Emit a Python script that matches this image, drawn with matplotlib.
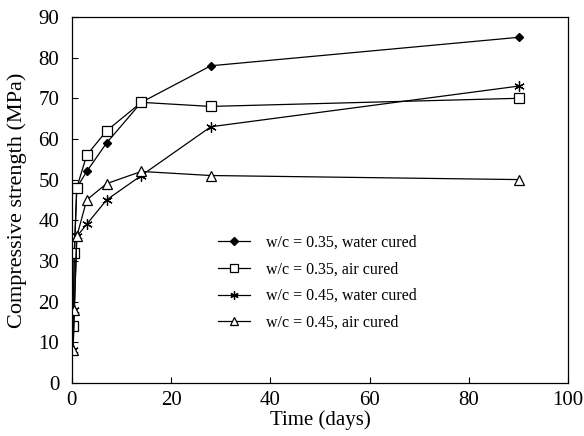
import matplotlib
matplotlib.use("Agg")
import matplotlib.pyplot as plt

plt.rcParams['font.family'] = ['Liberation Serif', 'DejaVu Serif']

# Data
days = [0.25, 0.5, 1, 3, 7, 14, 28, 90]
wc35_water = [14, 32, 48, 52, 59, 69, 78, 85]
wc35_air = [14, 32, 48, 56, 62, 69, 68, 70]
wc45_water = [8, 18, 36, 39, 45, 51, 63, 73]
wc45_air = [8, 18, 36, 45, 49, 52, 51, 50]

labels = ["w/c = 0.35, water cured", "w/c = 0.35, air cured",
          "w/c = 0.45, water cured", "w/c = 0.45, air cured"]
xticks = [0, 20, 40, 60, 80, 100]
yticks = [0, 10, 20, 30, 40, 50, 60, 70, 80, 90]

fig = plt.figure(figsize=(5.84, 4.36), dpi=100)
ax = fig.add_axes([0.123, 0.122, 0.850, 0.839])

ax.plot(days, wc35_water, color='black', lw=0.9, marker='D', ms=4.5,
        mfc='black', mec='black', label=labels[0])
ax.plot(days, wc35_air, color='black', lw=0.9, marker='s', ms=6.5,
        mfc='white', mec='black', mew=0.9, label=labels[1])
ax.plot(days, wc45_water, color='black', lw=0.9, marker=(6, 2, 0), ms=7.5,
        mec='black', mew=0.9, label=labels[2])
ax.plot(days, wc45_air, color='black', lw=0.9, marker='^', ms=6.5,
        mfc='white', mec='black', mew=0.9, label=labels[3])

ax.set_xlim(0, 100)
ax.set_ylim(0, 90)
ax.set_xticks(xticks)
ax.set_yticks(yticks)
ax.tick_params(direction='in', length=4, labelsize=15, width=0.8)
ax.tick_params(axis='y', pad=9)
ax.tick_params(axis='x', pad=6)
ax.set_xlabel("Time (days)", fontsize=15, labelpad=0)
ax.set_ylabel("Compressive strength (MPa)", fontsize=16, labelpad=8)
for s in ax.spines.values():
    s.set_linewidth(0.9)

leg = ax.legend(loc='upper left', bbox_to_anchor=(0.265, 0.445), frameon=False,
                fontsize=11.5, handlelength=2.0, markerscale=0.8,
                labelspacing=0.68, handletextpad=1.0)

fig.savefig("out.png", dpi=100)
